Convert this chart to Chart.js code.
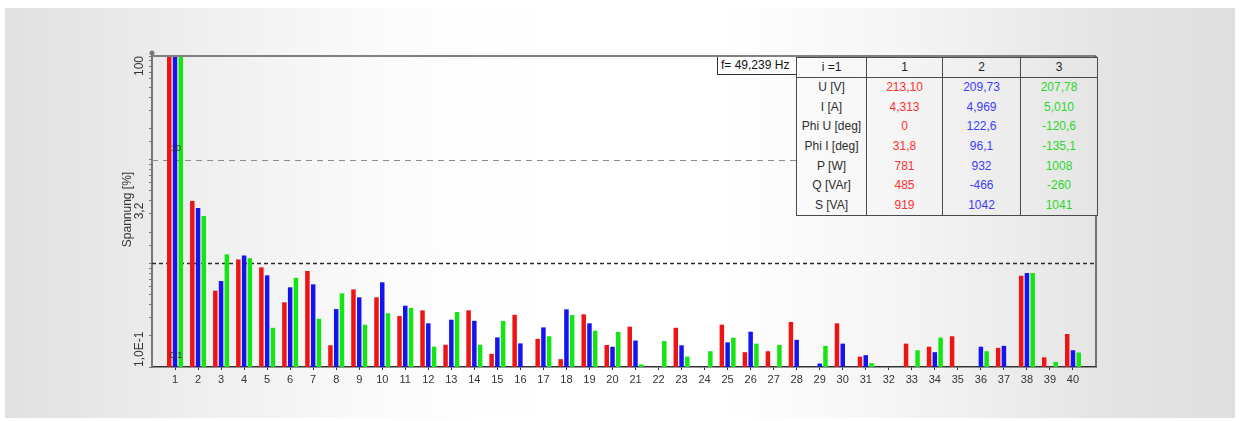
<!DOCTYPE html>
<html>
<head>
<meta charset="utf-8">
<title>Oberschwingungen Spannung</title>
<script src="https://cdn.jsdelivr.net/npm/chart.js@4.4.1/dist/chart.umd.min.js"></script>
<style>
  html, body { margin: 0; padding: 0; background: #fff; }
  #frame, #fbox, #phaseTable {
    background: linear-gradient(to right, #e1e1e1 0%, #efefef 16%, #fcfcfc 32%, #fff 45%, #fff 58%, #f4f4f4 74%, #e4e4e4 90%, #dfdfdf 100%) 5px 8px / 1230px 410px no-repeat fixed;
  }
  #frame { position: absolute; left: 5px; top: 8px; width: 1230px; height: 410px; }
  #chart { position: absolute; left: 0; top: 0; }
  #fbox {
    position: absolute; left: 717px; top: 57px; width: 79px; height: 18px;
    border: 1.5px solid #333; border-top: none; border-right: none; box-sizing: border-box;
    font: 12px "Liberation Sans", Arial, sans-serif; color: #111;
    line-height: 17px; padding-left: 3px; white-space: nowrap;
  }
  #phaseTable {
    position: absolute; left: 796px; top: 57px; width: 301px;
    border-collapse: collapse; table-layout: fixed;
    font: 12px "Liberation Sans", Arial, sans-serif; color: #2e2e2e;
  }
  #phaseTable td { text-align: center; padding: 0; border-left: 1.5px solid #4a4a4a; border-right: 1.5px solid #4a4a4a; height: 19.6px; line-height: 19px; }
  #phaseTable tr.head td { border-top: 1.5px solid #4a4a4a; border-bottom: 1.5px solid #4a4a4a; height: 18px; color: #1e1e1e; }
  #phaseTable tr:last-child td { border-bottom: 1.5px solid #4a4a4a; }
</style>
</head>
<body>
<div id="frame"></div>
<canvas id="chart" width="1239" height="421"></canvas>
<div id="fbox">f= 49,239 Hz</div>
<table id="phaseTable"></table>
<script>
// ---------- DATA ----------
const harmonics = [1, 2, 3, 4, 5, 6, 7, 8, 9, 10, 11, 12, 13, 14, 15, 16, 17, 18, 19, 20,
  21, 22, 23, 24, 25, 26, 27, 28, 29, 30, 31, 32, 33, 34, 35, 36, 37, 38, 39, 40];

// harmonic voltage per phase, % of fundamental
const phaseL1 = [100, 4.0, 0.545, 1.09, 0.915, 0.421, 0.843, 0.162, 0.561, 0.470,
  0.310, 0.352, 0.164, 0.352, 0.134, 0.319, 0.187, 0.119, 0.322, 0.163,
  0.245, null, 0.239, null, 0.256, 0.139, 0.142, 0.272, null, 0.264,
  0.126, null, 0.168, 0.157, 0.198, null, 0.153, 0.759, 0.124, 0.208];
const phaseL2 = [100, 3.41, 0.675, 1.19, 0.766, 0.587, 0.627, 0.362, 0.470, 0.656,
  0.390, 0.264, 0.286, 0.279, 0.193, 0.169, 0.241, 0.360, 0.264, 0.157,
  0.180, null, 0.162, null, 0.173, 0.219, null, 0.183, 0.108, 0.168,
  0.130, null, null, 0.139, null, 0.157, 0.160, 0.806, null, 0.145];
const phaseL3 = [100, 2.86, 1.22, 1.12, 0.239, 0.726, 0.292, 0.514, 0.256, 0.330,
  0.371, 0.157, 0.339, 0.164, 0.278, null, 0.198, 0.317, 0.224, 0.218,
  0.106, 0.178, 0.126, 0.142, 0.192, 0.168, 0.163, null, 0.160, null,
  0.109, null, 0.145, 0.192, null, 0.142, null, 0.806, 0.112, 0.138];

const yTickValues = [100, 3.2, 0.1];
const yTickLabels = ["100", "3,2", "1,0E-1"];
const refLevels = [10, 1];

// measurement table
const tableHeader = ["i =1", "1", "2", "3"];
const rowLabels = ["U [V]", "I [A]", "Phi U [deg]", "Phi I [deg]", "P [W]", "Q [VAr]", "S [VA]"];
const valuesL1 = ["213,10", "4,313", "0", "31,8", "781", "485", "919"];
const valuesL2 = ["209,73", "4,969", "122,6", "96,1", "932", "-466", "1042"];
const valuesL3 = ["207,78", "5,010", "-120,6", "-135,1", "1008", "-260", "1041"];

const FONT = '"Liberation Sans", Arial, sans-serif';
const COL_L1 = "#ef1414", COL_L2 = "#1414ef", COL_L3 = "#14e614";

// ---------- TABLE ----------
const table = document.getElementById("phaseTable");
const colWidths = [70, 76, 78, 77];
const colgroup = document.createElement("colgroup");
colWidths.forEach(w => {
  const c = document.createElement("col");
  c.style.width = w + "px";
  colgroup.appendChild(c);
});
table.appendChild(colgroup);

const head = document.createElement("tr");
head.className = "head";
tableHeader.forEach(t => {
  const td = document.createElement("td");
  td.innerText = t;
  head.appendChild(td);
});
table.appendChild(head);

const valueColors = ["#ff3030", "#3c3cff", "#2ad82a"];
rowLabels.forEach((label, r) => {
  const tr = document.createElement("tr");
  [label, valuesL1[r], valuesL2[r], valuesL3[r]].forEach((t, c) => {
    const td = document.createElement("td");
    td.innerText = t;
    if (c > 0) td.style.color = valueColors[c - 1];
    tr.appendChild(td);
  });
  table.appendChild(tr);
});

// ---------- CHART DECORATION ----------
const plotDecor = {
  id: "plotDecor",
  beforeDatasetsDraw(chart) {
    const { ctx, chartArea: a, scales: { y } } = chart;
    ctx.save();
    refLevels.forEach((lv, i) => {
      const py = Math.round(y.getPixelForValue(lv)) + 0.5;
      ctx.strokeStyle = i === 0 ? "#8c8c8c" : "#2a2a2a";
      ctx.lineWidth = i === 0 ? 1 : 1.4;
      ctx.setLineDash(i === 0 ? [6, 5] : [4, 3]);
      ctx.beginPath();
      ctx.moveTo(a.left, py);
      ctx.lineTo(a.right, py);
      ctx.stroke();
    });
    ctx.restore();
  },
  afterDatasetsDraw(chart) {
    const { ctx, chartArea: a, scales: { y } } = chart;
    ctx.save();
    // small in-plot labels at the left edge
    ctx.fillStyle = "#333";
    ctx.font = "9px " + FONT;
    ctx.textAlign = "center";
    ctx.textBaseline = "middle";
    ctx.fillText("10", a.left + 24, y.getPixelForValue(10) - 11);
    ctx.fillText("0,1", a.left + 24, a.bottom - 11);
    ctx.restore();
  },
  afterDraw(chart) {
    const { ctx, chartArea: a, scales: { y } } = chart;
    ctx.save();
    // top and right border of the plot box
    ctx.strokeStyle = "#808080";
    ctx.lineWidth = 2;
    ctx.beginPath();
    ctx.moveTo(a.left, a.top);
    ctx.lineTo(a.right, a.top);
    ctx.stroke();
    ctx.strokeStyle = "#4a4a4a";
    ctx.lineWidth = 1.5;
    ctx.beginPath();
    ctx.moveTo(a.right, a.top);
    ctx.lineTo(a.right, a.bottom);
    ctx.stroke();
    // knob at the axis top
    ctx.fillStyle = "#777";
    ctx.beginPath();
    ctx.arc(a.left, a.top - 3, 2.5, 0, Math.PI * 2);
    ctx.fill();

    // rotated y tick labels and title
    ctx.fillStyle = "#333";
    ctx.font = "12px " + FONT;
    ctx.textBaseline = "middle";
    yTickValues.forEach((v, i) => {
      const py = y.getPixelForValue(v);
      ctx.save();
      ctx.translate(a.left - 12, py);
      ctx.rotate(-Math.PI / 2);
      ctx.textAlign = i === 0 ? "right" : (i === yTickValues.length - 1 ? "left" : "center");
      ctx.fillText(yTickLabels[i], 0, 0);
      ctx.restore();
    });
    ctx.save();
    ctx.translate(a.left - 24, (a.top + a.bottom) / 2 - 2);
    ctx.rotate(-Math.PI / 2);
    ctx.textAlign = "center";
    ctx.fillText("Spannung [%]", 0, 0);
    ctx.restore();
    ctx.restore();
  }
};

// ---------- RENDER ----------
const toPoints = arr => harmonics.map((h, i) => ({ x: h, y: arr[i] }));

new Chart(document.getElementById("chart"), {
  type: "bar",
  data: {
    datasets: [
      { label: "L1", data: toPoints(phaseL1), backgroundColor: COL_L1 },
      { label: "L2", data: toPoints(phaseL2), backgroundColor: COL_L2 },
      { label: "L3", data: toPoints(phaseL3), backgroundColor: COL_L3 }
    ]
  },
  options: {
    responsive: false,
    animation: false,
    devicePixelRatio: 1,
    layout: { padding: { left: 0, top: 56, right: 143, bottom: 0 } },
    datasets: { bar: { categoryPercentage: 0.75, barPercentage: 0.78, borderWidth: 0 } },
    plugins: { legend: { display: false }, tooltip: { enabled: false } },
    scales: {
      x: {
        type: "linear",
        min: 0,
        max: 41,
        offset: false,
        afterBuildTicks: s => { s.ticks = harmonics.map(h => ({ value: h })); },
        afterFit: s => { s.height = 54; },
        ticks: {
          autoSkip: false, maxRotation: 0, color: "#333", padding: 3,
          font: { size: 11, family: FONT },
          callback: v => String(v)
        },
        grid: { drawOnChartArea: false, offset: false, tickLength: 3, color: "#333" },
        border: { color: "#333", width: 1.5 }
      },
      y: {
        type: "logarithmic",
        min: 0.1,
        max: 100,
        afterFit: s => { s.width = 152; },
        ticks: { display: false },
        grid: { drawOnChartArea: false, tickLength: 3, color: "#777" },
        border: { color: "#777", width: 2 }
      }
    }
  },
  plugins: [plotDecor]
});
</script>
</body>
</html>
